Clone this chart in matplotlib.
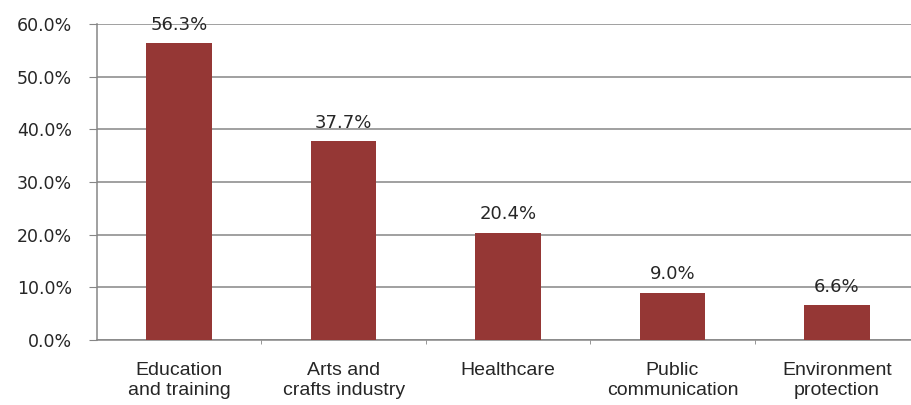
import numpy as np
import matplotlib
matplotlib.use('Agg')
import matplotlib.pyplot as plt
from matplotlib.ticker import FuncFormatter, FixedLocator

categories = ['Education\nand training', 'Arts and\ncrafts industry', 'Healthcare',
              'Public\ncommunication', 'Environment\nprotection']
shares = [56.3, 37.7, 20.4, 9.0, 6.6]

bar_color = '#953735'
grid_color = '#868686'
text_color = '#262626'

fig = plt.figure(figsize=(9.11, 4.05), dpi=100)
# the plot area runs past the right edge of the picture, as in the original
ax = fig.add_axes([97 / 911, (405 - 340) / 405, 822 / 911, 316 / 405])

x = np.arange(len(categories))
ax.bar(x, shares, width=0.4, color=bar_color, zorder=3)

for xi, v in zip(x, shares):
    ax.annotate('%.1f%%' % v, (xi, v), xytext=(0, 7), textcoords='offset points',
                ha='center', va='bottom', fontsize=13, color=text_color,
                family='DejaVu Sans')

ax.set_xlim(-0.5, len(categories) - 0.5)
ax.set_ylim(0, 60)
ax.set_yticks(np.arange(0, 61, 10))
ax.yaxis.set_major_formatter(FuncFormatter(lambda v, p: '%.1f%%' % v))
ax.grid(axis='y', color=grid_color, linewidth=1.1, zorder=0)

ax.set_xticks(x)
ax.set_xticklabels(categories, fontsize=14, family='Liberation Sans',
                   color=text_color, linespacing=1.2)
ax.xaxis.set_minor_locator(FixedLocator(x[:-1] + 0.5))
ax.tick_params(axis='x', which='major', length=0, pad=16)
ax.tick_params(axis='x', which='minor', length=3, color=grid_color)
ax.tick_params(axis='y', length=6, color=grid_color, pad=12, labelsize=12.5,
               labelcolor=text_color)

for side in ['top', 'right']:
    ax.spines[side].set_visible(False)
for side in ['left', 'bottom']:
    ax.spines[side].set_color(grid_color)
    ax.spines[side].set_linewidth(1.1)

fig.savefig('out.png', dpi=100)
